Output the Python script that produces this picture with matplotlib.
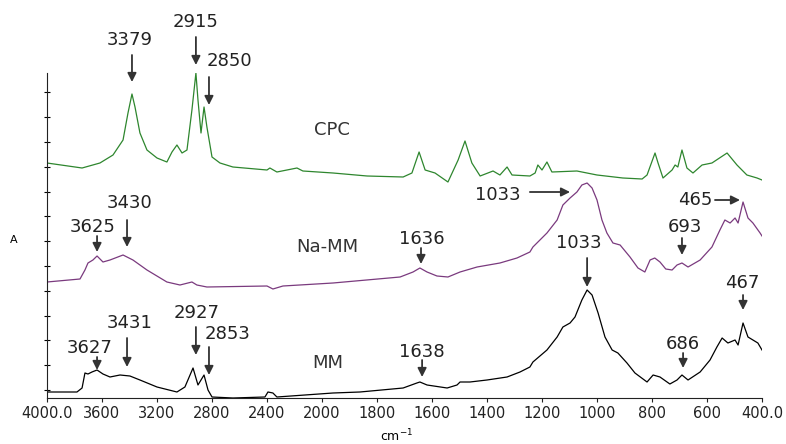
import numpy as np
import matplotlib
matplotlib.use("Agg")
import matplotlib.pyplot as plt

# spectra (wavenumber cm-1, absorbance in arbitrary units)
cpc_wn = [4000, 3745, 3615, 3520, 3447, 3411, 3382, 3360, 3324, 3273, 3200, 3128, 3091, 3055,
          3018, 2982, 2946, 2917, 2902, 2880, 2858, 2837, 2800, 2742, 2648, 2400, 2379, 2328,
          2182, 2139, 1960, 1836, 1705, 1673, 1647, 1625, 1589, 1542, 1505, 1480, 1455, 1425,
          1378, 1353, 1327, 1309, 1244, 1225, 1215, 1200, 1182, 1164, 1073, 1000, 906, 836,
          818, 789, 778, 760, 727, 716, 706, 691, 673, 651, 618, 582, 527, 491, 455, 418, 400]
cpc_a = [235, 230, 235, 243, 258, 285, 304, 291, 265, 248, 240, 236, 246, 253,
         245, 248, 288, 325, 298, 265, 291, 271, 241, 235, 231, 228, 230, 226,
         230, 227, 225, 222, 221, 225, 246, 228, 225, 216, 238, 257, 235, 222,
         227, 223, 231, 223, 222, 225, 233, 228, 236, 226, 227, 223, 220, 219,
         223, 245, 235, 220, 228, 233, 231, 248, 230, 225, 233, 235, 245, 233, 223, 220, 218]

namm_wn = [4000, 3760, 3724, 3702, 3666, 3636, 3593, 3542, 3447, 3375, 3273, 3128, 3033, 2946,
           2910, 2837, 2400, 2357, 2284, 1960, 1716, 1669, 1644, 1618, 1582, 1542, 1498, 1436,
           1353, 1291, 1244, 1233, 1182, 1145, 1124, 1098, 1073, 1055, 1036, 1018, 1000, 982,
           964, 942, 916, 880, 851, 826, 807, 790, 771, 750, 727, 709, 691, 669, 625, 582,
           553, 535, 516, 498, 487, 469, 451, 433, 407, 400]
namm_a = [116, 119, 128, 135, 138, 142, 136, 138, 143, 138, 128, 116, 113, 116,
          113, 111, 112, 109, 112, 115, 121, 126, 130, 126, 122, 121, 126, 131,
          135, 140, 146, 151, 165, 178, 193, 200, 206, 213, 215, 210, 198, 178,
          165, 155, 153, 141, 130, 126, 138, 140, 136, 129, 128, 133, 135, 131, 138, 151,
          168, 178, 175, 180, 175, 196, 180, 175, 165, 162]

mm_wn = [4000, 3782, 3745, 3724, 3702, 3673, 3636, 3593, 3542, 3469, 3397, 3324, 3200, 3055,
         2997, 2938, 2902, 2858, 2829, 2800, 2648, 2415, 2393, 2357, 2328, 1960, 1862, 1705,
         1655, 1644, 1618, 1545, 1509, 1498, 1462, 1400, 1327, 1280, 1244, 1233, 1182, 1145,
         1124, 1098, 1080, 1055, 1036, 1018, 996, 971, 945, 924, 891, 862, 818, 796, 771,
         735, 709, 691, 669, 625, 589, 564, 545, 524, 498, 487, 469, 451, 433, 415, 400]
mm_a = [6, 6, 10, 25, 24, 26, 28, 24, 21, 23, 22, 18, 11, 6,
        11, 30, 13, 23, 8, 1, 0, 1, 6, 5, 1, 5, 6, 10,
        15, 16, 13, 10, 13, 16, 16, 18, 21, 26, 31, 36, 48, 61,
        71, 75, 81, 98, 108, 103, 85, 61, 48, 45, 35, 25, 16, 23, 21,
        14, 18, 23, 18, 26, 38, 51, 60, 55, 58, 53, 75, 61, 58, 55, 48]

tick_wn = [4000, 3600, 3200, 2800, 2400, 2000, 1800, 1600, 1400, 1200, 1000, 800, 600, 400]
tick_labels = ["4000.0", "3600", "3200", "2800", "2400", "2000", "1800", "1600",
               "1400", "1200", "1000", "800", "600", "400.0"]

# (label, text x, text y, arrow tail x, tail y, arrow tip x, tip y)
peak_marks = [
    ("3379", 3397, 358, 3382, 343, 3382, 316),
    ("2915", 2917, 376, 2917, 361, 2917, 333),
    ("2850", 2670, 337, 2822, 321, 2822, 293),
    ("3430", 3397, 195, 3418, 178, 3418, 151),
    ("3625", 3666, 171, 3636, 162, 3636, 146),
    ("1636", 1636, 159, 1640, 150, 1640, 134),
    ("1033", 1360, 203, 1244, 206, 1098, 206),
    ("465", 644, 198, 571, 198, 480, 198),
    ("693", 680, 171, 691, 160, 691, 143),
    ("3431", 3397, 75, 3418, 60, 3418, 31),
    ("3627", 3687, 50, 3636, 41, 3636, 28),
    ("2927", 2909, 85, 2917, 71, 2917, 43),
    ("2853", 2684, 64, 2822, 51, 2822, 23),
    ("1638", 1636, 46, 1636, 38, 1636, 21),
    ("1033", 1066, 155, 1036, 140, 1036, 111),
    ("686", 687, 54, 687, 45, 687, 30),
    ("467", 473, 115, 469, 103, 469, 88),
]

sample_names = [("CPC", 1964, 268), ("Na-MM", 1982, 151), ("MM", 1978, 35)]


# region below 2000 cm-1 is drawn at double scale
def fwd(x):
    x = np.asarray(x, dtype=float)
    return np.where(x <= 2000, 2 * x, x + 2000)


def inv(p):
    p = np.asarray(p, dtype=float)
    return np.where(p <= 4000, p / 2, p - 2000)


fig = plt.figure(figsize=(7.86, 4.44), dpi=100)
ax = fig.add_axes([47 / 786, 46 / 444, 715 / 786, 325 / 444])

ax.plot(cpc_wn, cpc_a, color="#2e862e", lw=0.9)
ax.plot(namm_wn, namm_a, color="#7a3a7e", lw=0.9)
ax.plot(mm_wn, mm_a, color="black", lw=0.9)

ax.set_xscale("function", functions=(fwd, inv))
ax.set_xlim(4000, 400)
ax.set_ylim(0, 325)
ax.set_xticks(tick_wn)
ax.set_xticklabels(tick_labels)
ax.set_yticks(np.arange(8, 320, 24.8))
ax.set_yticklabels([])
ax.tick_params(axis="x", direction="out", length=3, width=0.8, pad=3,
               labelsize=10.5, colors="#222222")
ax.tick_params(axis="y", direction="inout", length=5, width=0.8)
ax.minorticks_off()

for side in ["top", "right"]:
    ax.spines[side].set_visible(False)
ax.spines["left"].set_color("#222222")
ax.spines["bottom"].set_color("#222222")

for lab, tx, ty, ax0, ay0, ax1, ay1 in peak_marks:
    ax.text(tx, ty, lab, ha="center", va="center", fontsize=13, color="#222222",
            clip_on=False)
    ax.annotate("", xy=(ax1, ay1), xytext=(ax0, ay0), annotation_clip=False,
                arrowprops=dict(arrowstyle="-|>", color="#333333", lw=1.3,
                                mutation_scale=13, shrinkA=0, shrinkB=0))

for name, nx, ny in sample_names:
    ax.text(nx, ny, name, ha="center", va="center", fontsize=13, color="#333333")

fig.text(14 / 786, 1 - 240 / 444, "A", ha="center", va="center", fontsize=8)
fig.text(397 / 786, 1 - 436 / 444, "cm$^{-1}$", ha="center", va="center", fontsize=9)

fig.savefig("out.png", dpi=100)
